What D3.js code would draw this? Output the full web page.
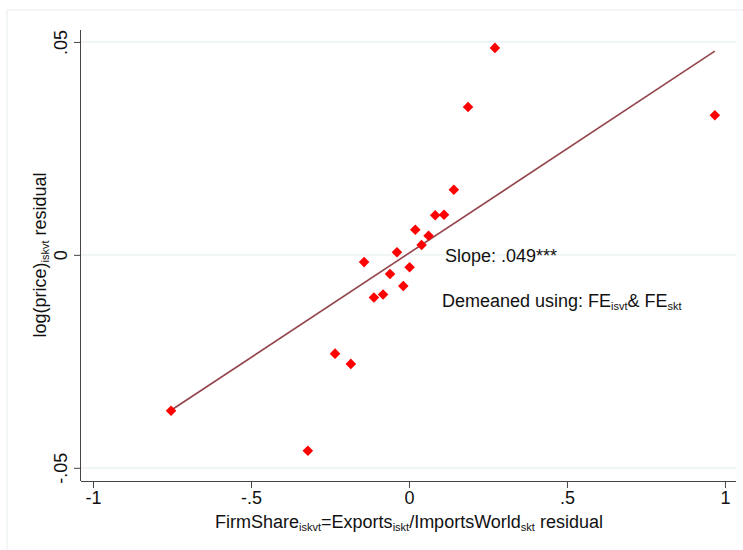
<!DOCTYPE html>
<html>
<head>
<meta charset="utf-8">
<script src="https://cdn.jsdelivr.net/npm/d3@7"></script>
<style>
  body { margin: 0; background: #fff; }
  text { font-family: "Liberation Sans", Arial, sans-serif; fill: #111; }
</style>
</head>
<body>
<script>
// binned residuals
var xVals = [-0.753, -0.320, -0.234, -0.184, -0.142, -0.111, -0.082, -0.060, -0.038, -0.018,
             0.002, 0.020, 0.040, 0.062, 0.083, 0.111, 0.142, 0.187, 0.272, 0.968];
var yVals = [-0.0366, -0.0460, -0.0232, -0.0256, -0.0017, -0.0100, -0.0093, -0.0045, 0.0006, -0.0073,
             -0.0029, 0.0059, 0.0023, 0.0045, 0.0093, 0.0094, 0.0153, 0.0347, 0.0486, 0.0328];
var fitSlope = 0.049, fitIntercept = 0.0004;
var xTicks = [-1, -0.5, 0, 0.5, 1];
var xTickLabels = ["-1", "-.5", "0", ".5", "1"];
var yTicks = [-0.05, 0, 0.05];
var yTickLabels = ["-.05", "0", ".05"];

var width = 743, height = 550;
var svg = d3.select("body").append("svg")
    .attr("width", width)
    .attr("height", height);

// outer frame
svg.append("rect")
    .attr("x", 7).attr("y", 10)
    .attr("width", 760).attr("height", 560)
    .attr("fill", "none")
    .attr("stroke", "#e6edf0")
    .attr("stroke-width", 1);

var pLeft = 81, pRight = 736, pTop = 30, pBottom = 481;

var x = d3.scaleLinear().domain([-1.038, 1.035]).range([pLeft, pRight]);
var y = d3.scaleLinear().domain([-0.0531, 0.0528]).range([pBottom, pTop]);

// gridlines
svg.append("g").selectAll("line")
    .data(yTicks)
    .enter().append("line")
    .attr("x1", pLeft).attr("x2", pRight)
    .attr("y1", function(d) { return y(d); })
    .attr("y2", function(d) { return y(d); })
    .attr("stroke", "#e8f0f1")
    .attr("stroke-width", 1.2);

// axes
var xAxis = d3.axisBottom(x).tickValues(xTicks).tickSize(7).tickPadding(3)
    .tickFormat(function(d, i) { return xTickLabels[i]; });
var gx = svg.append("g").attr("transform", "translate(0," + pBottom + ")").call(xAxis);
gx.select(".domain").attr("d", "M" + pLeft + ",0.5H" + pRight).attr("stroke", "#444");
gx.selectAll(".tick line").attr("stroke", "#444");
gx.selectAll(".tick text").style("font-size", "18px").attr("fill", "#111")
    .style("font-family", "Liberation Sans, Arial, sans-serif");

var yAxis = d3.axisLeft(y).tickValues(yTicks).tickSize(7).tickPadding(0)
    .tickFormat(function(d, i) { return yTickLabels[i]; });
var gy = svg.append("g").attr("transform", "translate(" + pLeft + ",0)").call(yAxis);
gy.select(".domain").attr("d", "M-0.5," + pTop + "V" + pBottom).attr("stroke", "#444");
gy.selectAll(".tick line").attr("stroke", "#444");
gy.selectAll(".tick text")
    .style("font-size", "18px").attr("fill", "#111")
    .style("font-family", "Liberation Sans, Arial, sans-serif")
    .attr("x", null)
    .attr("text-anchor", "middle")
    .attr("transform", "translate(-14,0) rotate(-90)")
    .attr("dy", "0em");

// fitted line
var xExt = d3.extent(xVals);
svg.append("line")
    .attr("x1", x(xExt[0])).attr("y1", y(fitIntercept + fitSlope * xExt[0]))
    .attr("x2", x(xExt[1])).attr("y2", y(fitIntercept + fitSlope * xExt[1]))
    .attr("stroke", "#93434a")
    .attr("stroke-width", 1.6);

// points
var diamond = d3.symbol().type(d3.symbolSquare).size(56);
svg.append("g").selectAll("path")
    .data(xVals)
    .enter().append("path")
    .attr("d", diamond)
    .attr("transform", function(d, i) { return "translate(" + x(d) + "," + y(yVals[i]) + ") rotate(45)"; })
    .attr("fill", "#ff0000");

// annotations
svg.append("text")
    .attr("x", 445).attr("y", 262)
    .style("font-size", "18px")
    .text("Slope: .049***");

var note = svg.append("text")
    .attr("x", 442).attr("y", 307)
    .style("font-size", "18px");
note.append("tspan").text("Demeaned using: FE");
note.append("tspan").attr("dy", 3).style("font-size", "11px").text("isvt");
note.append("tspan").attr("dy", -3).text("& FE");
note.append("tspan").attr("dy", 3).style("font-size", "11px").text("skt");

// axis titles
var xt = svg.append("text")
    .attr("x", 409).attr("y", 528)
    .attr("text-anchor", "middle")
    .style("font-size", "18px");
xt.append("tspan").text("FirmShare");
xt.append("tspan").attr("dy", 3).style("font-size", "11px").text("iskvt");
xt.append("tspan").attr("dy", -3).text("=Exports");
xt.append("tspan").attr("dy", 3).style("font-size", "11px").text("iskt");
xt.append("tspan").attr("dy", -3).text("/ImportsWorld");
xt.append("tspan").attr("dy", 3).style("font-size", "11px").text("skt");
xt.append("tspan").attr("dy", -3).text(" residual");

var yt = svg.append("text")
    .attr("transform", "translate(46,255) rotate(-90)")
    .attr("text-anchor", "middle")
    .style("font-size", "18px");
yt.append("tspan").text("log(price)");
yt.append("tspan").attr("dy", 3).style("font-size", "11px").text("iskvt");
yt.append("tspan").attr("dy", -3).text(" residual");
</script>
</body>
</html>
